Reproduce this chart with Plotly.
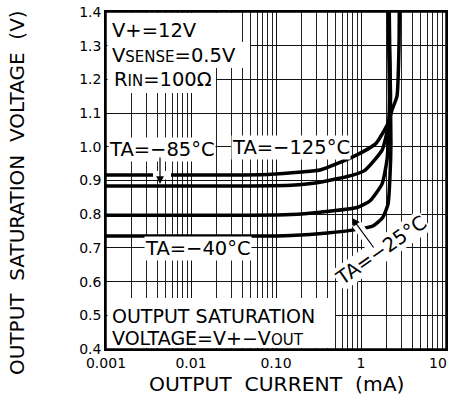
import plotly.graph_objects as go

# ---- data ----
x_125 = [0.001, 0.02, 0.08, 0.2, 0.33, 0.8, 1.5, 2.08, 2.32, 2.65, 2.8, 2.82]
v_125 = [0.916, 0.916, 0.918, 0.925, 0.931, 0.97, 1.01, 1.07, 1.11, 1.15, 1.3, 1.4]

x_85 = [0.001, 0.05, 0.15, 0.33, 0.8, 1.11, 1.77, 2.08, 2.22, 2.15, 2.12]
v_85 = [0.884, 0.884, 0.886, 0.895, 0.916, 0.93, 0.99, 1.06, 1.15, 1.3, 1.4]

x_25 = [0.001, 0.05, 0.15, 0.33, 0.9, 1.28, 1.77, 2.02, 2.12, 2.16, 2.12, 2.1]
v_25 = [0.797, 0.797, 0.799, 0.806, 0.82, 0.84, 0.89, 0.96, 1.05, 1.15, 1.3, 1.4]

x_m40 = [0.001, 0.05, 0.15, 0.4, 0.9, 1.38, 1.8, 2.08, 2.19, 2.25, 2.2, 2.15]
v_m40 = [0.735, 0.735, 0.737, 0.744, 0.755, 0.765, 0.79, 0.83, 0.91, 1.01, 1.2, 1.4]

x_tickvals = [0.001, 0.01, 0.1, 1, 10]
x_ticktext = ["0.001", "0.01", "0.10", "1", ""]
x_last_label = "10"
y_tickvals = [0.4, 0.5, 0.6, 0.7, 0.8, 0.9, 1.0, 1.1, 1.2, 1.3, 1.4]
y_ticktext = ["0.4", "0.5", "0.6", "0.7", "0.8", "0.9", "1.0", "1.1", "1.2", "1.3", "1.4"]

# ---- layout geometry (pixel coordinates of the reference) ----
W, H = 451, 400
L0, T0, PW, PH = 106, 12, 340, 337
MB = H - T0 - PH
MR = W - L0 - PW
FONT = "DejaVu Sans"


def px(xp):
    return (xp - L0) / PW


def py(yp):
    return (T0 + PH - yp) / PH


fig = go.Figure()
for xs, vs in [(x_125, v_125), (x_85, v_85), (x_25, v_25), (x_m40, v_m40)]:
    fig.add_trace(go.Scatter(x=xs, y=vs, mode="lines",
                             line=dict(color="black", width=3.5, shape="spline", smoothing=0.5),
                             showlegend=False, hoverinfo="skip"))

shapes = []


def wrect(x0, y0, x1, y1):
    shapes.append(dict(type="rect", xref="paper", yref="paper",
                       x0=px(x0), x1=px(x1), y0=py(y1), y1=py(y0),
                       fillcolor="white", line=dict(width=0), layer="above"))


# white backgrounds of text blocks
wrect(107.5, 13, 238, 43)
wrect(107.5, 42, 250, 68)
wrect(107.5, 67, 216, 93)
wrect(107.5, 298, 335, 348)
# halos where arrows cross curves
wrect(153, 171, 171, 179.5)
shapes.append(dict(type="line", xref="paper", yref="paper",
                   x0=px(367), y0=py(239), x1=px(356), y1=py(223),
                   line=dict(color="white", width=10), layer="above"))
# frame
shapes.append(dict(type="rect", xref="paper", yref="paper", x0=0, x1=1, y0=0, y1=1,
                   line=dict(color="black", width=1.5), layer="above"))

ann = []


def label(text, xp, yp, xanchor="center", size=19.5, bg=None, angle=0):
    d = dict(text=text, xref="paper", yref="paper", x=px(xp), y=py(yp),
             xanchor=xanchor, yanchor="middle", showarrow=False, textangle=angle,
             font=dict(family=FONT, size=size, color="black"), borderpad=0)
    if bg:
        d["bgcolor"] = bg
    ann.append(d)


def arrow(x_tip, y_tip, x_tail, y_tail):
    ann.append(dict(text="", xref="paper", yref="paper", x=px(x_tip), y=py(y_tip),
                    ax=x_tail - x_tip, ay=y_tail - y_tip, showarrow=True, arrowhead=2,
                    arrowsize=1.3, arrowwidth=1.2, arrowcolor="black",
                    font=dict(size=1), borderpad=0))


SM = "<span style='font-size:15px'>%s</span>"
label("V+=12V", 111, 31, xanchor="left")
label("V" + SM % "SENSE" + "=0.5V", 111, 56, xanchor="left")
label("R" + SM % "IN" + "=100Ω", 113, 80, xanchor="left")
label("OUTPUT SATURATION", 111, 316, xanchor="left", size=19)
label("VOLTAGE=V+−V" + SM % "OUT", 111, 338, xanchor="left", size=19)

label("TA=−85°C", 161.5, 149, bg="white")
arrow(160, 184, 160, 157)
label("TA=−125°C", 291, 148, bg="white")
label("TA=−40°C", 198, 248, bg="white")
label("TA=−25°C", 381, 250, bg="white", angle=-35)
arrow(352, 218, 374, 248)

# last x tick label (kept inside the window)
label(x_last_label, 438, 363, size=14)

# axis titles
ann.append(dict(text="OUTPUT  CURRENT  (mA)", xref="paper", yref="paper", x=0.5, y=py(384),
                xanchor="center", yanchor="middle", showarrow=False,
                font=dict(family=FONT, size=20.3, color="black")))
ann.append(dict(text="OUTPUT  SATURATION  VOLTAGE  (V)", xref="paper", yref="paper",
                x=px(17), y=py(193), xanchor="center", yanchor="middle", showarrow=False,
                textangle=-90, font=dict(family=FONT, size=20, color="black")))

fig.update_layout(
    width=W, height=H, margin=dict(l=L0, r=MR, t=T0, b=MB, autoexpand=False),
    paper_bgcolor="white", plot_bgcolor="white",
    shapes=shapes, annotations=ann,
    font=dict(family=FONT, color="black"),
)
fig.update_xaxes(type="log", range=[-3, 1], tickvals=x_tickvals, ticktext=x_ticktext,
                 showgrid=True, gridcolor="#111", gridwidth=1.3, automargin=False,
                 minor=dict(dtick="D1", showgrid=True, gridcolor="#222", gridwidth=1, ticks=""),
                 ticks="", tickfont=dict(family=FONT, size=14, color="black"),
                 showline=True, linecolor="black", linewidth=1.5, mirror=True, zeroline=False)
fig.update_yaxes(range=[0.4, 1.4], tickvals=y_tickvals, ticktext=y_ticktext,
                 showgrid=True, gridcolor="#111", gridwidth=1, automargin=False,
                 ticks="", tickfont=dict(family=FONT, size=14, color="black"),
                 showline=True, linecolor="black", linewidth=1.5, mirror=True, zeroline=False)

fig.write_html("out.html", config={"displayModeBar": False},
               post_script="document.body.style.margin='0';")
